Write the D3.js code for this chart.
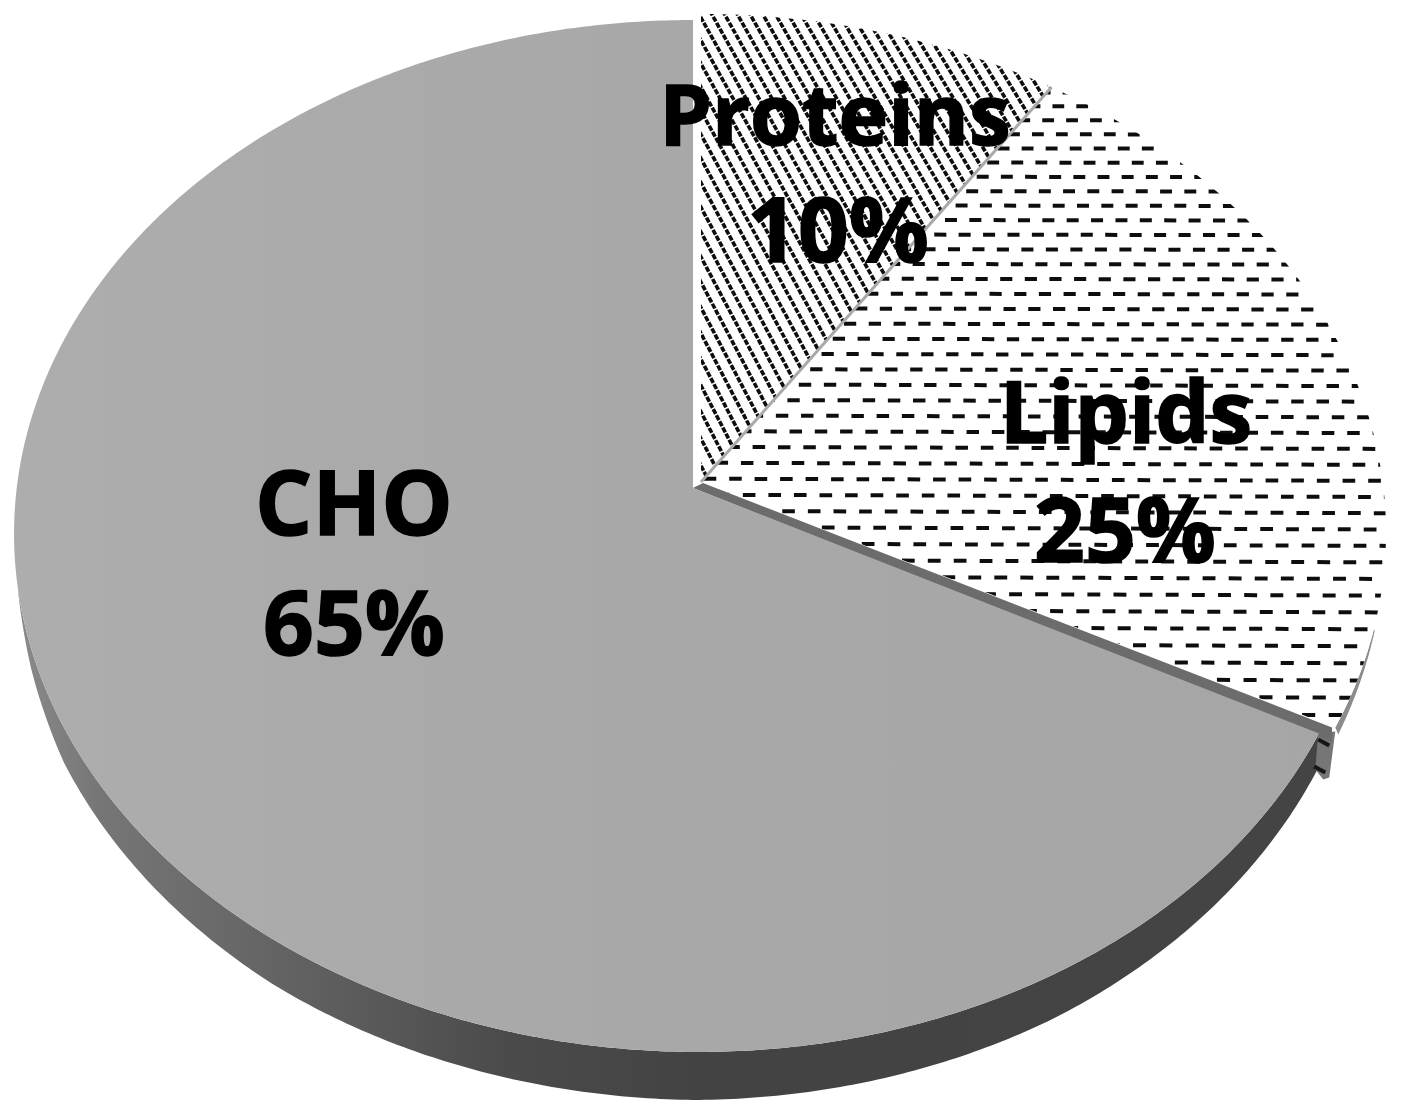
<!DOCTYPE html>
<html><head><meta charset="utf-8">
<script src="https://cdn.jsdelivr.net/npm/d3@7"></script>
<style>html,body{margin:0;background:#fff}svg{display:block}
text{font-family:"Open Sans",sans-serif;font-weight:700;fill:#000;stroke:#000;stroke-width:1.5px;text-anchor:middle}</style>
</head><body><svg id="c" width="1405" height="1114"></svg>
<script>
const categories=["Proteins","Lipids","CHO"];
const shares=[10,25,65];
const labelText=["10%","25%","65%"];
const W=1405,H=1114;
const svg=d3.select("#c");
const defs=svg.append("defs");
const pie=d3.pie().sort(null).startAngle(0).endAngle(2*Math.PI)(shares);
const deg=Math.PI/180;
// foreshortening of the drawn angles in the source's 3-D view
const viewAngle=d3.scaleLinear().domain([0,36*deg,126*deg,360*deg]).range([0,33.7*deg,117*deg,360*deg]);
// perspective projection from the unit disc
const c=.093,d=-.0044,k=679,ax=697,ay=485,b=-466.4;
const proj=(u,v,off=[0,0])=>{const w=1+c*v+d*u;return [ax+k*u/w+off[0],(ay+b*v)/w+off[1]];};
const onDisc=(t,off)=>proj(Math.sin(t),Math.cos(t),off);
const line=d3.line();
const offIn=[4,-3],offCho=[-4,3];
// the CHO slice is a little narrower on its right half
const cho=(p)=>{const x0=ax+offCho[0];return [p[0]>x0?x0+(p[0]-x0)*.987:p[0],p[1]];};
const sectorPts=(a0,a1,off,f=(p=>p))=>{const n=Math.max(2,Math.ceil((a1-a0)/(.5*deg)));
  return [f(proj(0,0,off)),...d3.range(n+1).map(i=>f(onDisc(a0+(a1-a0)*i/n,off)))];};
const sector=(a0,a1,off)=>line(sectorPts(a0,a1,off))+"Z";
const A=pie.map(p=>[viewAngle(p.startAngle),viewAngle(p.endAngle)]);

const blur=defs.append("filter").attr("id","soft").attr("filterUnits","userSpaceOnUse")
  .attr("x",0).attr("y",0).attr("width",W).attr("height",H);
blur.append("feGaussianBlur").attr("stdDeviation",.65);

// wall gradient
const g=defs.append("linearGradient").attr("id","wall").attr("gradientUnits","userSpaceOnUse")
  .attr("x1",20).attr("x2",1330).attr("y1",0).attr("y2",0);
[[0,"#8a8a8a"],[.06,"#767676"],[.2,"#636363"],[.37,"#4b4b4b"],[.52,"#434343"],[1,"#444444"]]
  .forEach(s=>g.append("stop").attr("offset",s[0]).attr("stop-color",s[1]));

// pie depth seen along the rim
const depth=d3.scaleLinear().domain([117,150,180,215,243,252,259].map(x=>x*deg)).range([33,44,48,45,35,20,0]).clamp(true);
const wallAngles=d3.range(A[2][0],270*deg,.5*deg);
const rim=wallAngles.map(t=>cho(onDisc(t,offCho)));
const low=wallAngles.map(t=>{const p=cho(onDisc(t,offCho));return [p[0],p[1]+depth(t)];});
svg.append("path").attr("d",line([...rim,...low.slice().reverse()])+"Z").attr("fill","url(#wall)");

// thin lipid rim wall
const wSpan=11*deg, a1=A[1][1];
const lw=d3.range(a1-wSpan,a1+.001,.25*deg);
const lwTop=lw.map(t=>onDisc(t,offIn));
const lwLow=lw.map(t=>{const p=onDisc(t,offIn),f=(t-(a1-wSpan))/wSpan;return [p[0]+1+2*f,p[1]+1+6*f];});
svg.append("path").attr("d",line([...lwTop,...lwLow.slice().reverse()])+"Z").attr("fill","#8c8c8c");

// clips
const clip=(id,dStr)=>defs.append("clipPath").attr("id",id).append("path").attr("d",dStr);
clip("cp0",sector(A[0][0],A[0][1],offIn));
clip("cp1",sector(A[1][0],A[1][1],offIn));

svg.append("path").attr("d",sector(A[0][0],A[0][1],offIn)).attr("fill","#fff");
svg.append("path").attr("d",sector(A[1][0],A[1][1],offIn)).attr("fill","#fff");

// protein hatch, defined on the disc so that it follows the perspective
const hatchG=svg.append("g").attr("clip-path","url(#cp0)").append("g").attr("filter","url(#soft)");
const hs=.0205, discSlope=2.6;
d3.range(-1,2,hs).forEach(u0=>{
  const q0=proj(u0-.55/discSlope,1.05,offIn), q1=proj(u0+.55/discSlope,-.05,offIn);
  hatchG.append("path").attr("d",line([q0,q1])).attr("stroke","#0c0c0c").attr("stroke-width",3.6)
    .attr("stroke-dasharray","5.4 1.5").attr("fill","none");
});

// lipid dashes, on the disc too
const dashG=svg.append("g").attr("clip-path","url(#cp1)").append("g").attr("filter","url(#soft)");
const du=.0375, dv=.0313, dl=.0185;
d3.range(-34,34).forEach(r=>{
  const v=r*dv+.0064;
  const shift=(r*.467*du)%du;
  d3.range(-2,32).forEach(i=>{
    const u=i*du+shift+.004;
    dashG.append("path").attr("d",line([proj(u,v,offIn),proj(u+dl,v,offIn)]))
      .attr("stroke","#111").attr("stroke-width",4).attr("fill","none");
  });
});

// small side block of the lipid slice at the rim
const rimEnd=onDisc(a1,offIn);
const blockShape=[[0,4],[-6,50],[-12,52],[-20,42],[-17,6]];
svg.append("path").attr("d",line(blockShape.map(o=>[rimEnd[0]+o[0],rimEnd[1]+o[1]]))+"Z").attr("fill","#767676");
[[-17,12],[-21,39]].forEach(o=>svg.append("path")
  .attr("d",line([[rimEnd[0]+o[0],rimEnd[1]+o[1]],[rimEnd[0]+o[0]+11,rimEnd[1]+o[1]+6]]))
  .attr("stroke","#151515").attr("stroke-width",4).attr("filter","url(#soft)"));

// seam between proteins and lipids
svg.append("path").attr("d",line([proj(0,0,offIn),onDisc(A[0][1],offIn)])).attr("stroke","#a9a9a9").attr("stroke-width",3).attr("fill","none");

// CHO
const choP=sectorPts(A[2][0],A[2][1],offCho,cho);
const e=choP[1];
svg.append("path").attr("d",line([[ax+6,ay-2],[e[0]+13,e[1]-6],[e[0]+13,e[1]+8],choP[0]])+"Z").attr("fill","#6c6c6c");
const tg=defs.append("linearGradient").attr("id","topf").attr("gradientUnits","userSpaceOnUse").attr("x1",14).attr("x2",1320).attr("y1",0).attr("y2",0);
[[0,"#adadad"],[.5,"#a8a8a8"],[1,"#a6a6a6"]].forEach(s=>tg.append("stop").attr("offset",s[0]).attr("stop-color",s[1]));
svg.append("path").attr("d",line(choP)+"Z").attr("fill","url(#topf)");

// labels
const labelPos=[[[835,145],[838,262]],[[1126,443],[1125,562]],[[354,535],[354,655]]];
const nameSize=[84,86,90], pctSize=[89,89,89];
pie.forEach((p,i)=>{
  const t=svg.append("g");
  t.append("text").attr("x",labelPos[i][0][0]).attr("y",labelPos[i][0][1]).attr("font-size",nameSize[i]).text(categories[i]);
  t.append("text").attr("x",labelPos[i][1][0]).attr("y",labelPos[i][1][1]).attr("font-size",pctSize[i]).text(labelText[i]);
});
</script></body></html>
